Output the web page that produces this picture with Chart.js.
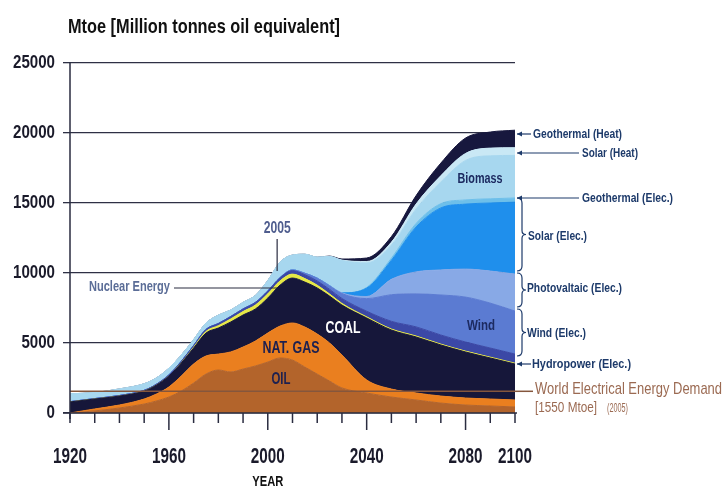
<!DOCTYPE html>
<html>
<head>
<meta charset="utf-8">
<script src="https://cdn.jsdelivr.net/npm/chart.js@4.4.1/dist/chart.umd.min.js"></script>
<style>
html,body{margin:0;padding:0;background:#fff;}
#wrap{width:726px;height:497px;position:relative;}
</style>
</head>
<body>
<div id="wrap"><canvas id="energy"></canvas></div>
<script>
// values in Mtoe
var years     = [1920,1930,1940,1950,1955,1960,1965,1970,1975,1980,1985,1990,1995,2000,2005,2010,2015,2020,2025,2030,2040,2050,2060,2070,2080,2090,2100];
var oil       = [0,150,360,640,860,1140,1570,2140,2780,3070,2930,3140,3360,3640,3930,3780,3280,2780,2280,1790,1430,1140,930,710,570,500,430];
var natGas    = [0,140,210,360,500,720,1070,1360,1290,1140,1430,1570,1780,2070,2280,2650,2860,2860,2720,2350,930,570,500,500,500,500,500];
var coal      = [790,710,640,570,640,780,930,1140,1640,1860,2140,2290,2290,2500,2930,3210,3210,3290,3350,3570,4430,4220,4000,3650,3290,2930,2570];
var nuclear   = [0,0,0,0,0,0,20,60,120,170,220,250,280,300,300,280,250,200,150,120,80,70,70,60,60,60,60];
var hydro     = [20,30,40,50,60,80,100,120,140,150,170,180,190,200,220,250,280,300,330,350,400,550,650,650,650,650,650];
var wind      = [0,0,0,0,0,0,0,0,0,0,0,0,0,0,20,50,100,200,250,350,900,1900,2360,2860,3210,3210,3070];
var pv        = [0,0,0,0,0,0,0,0,0,0,0,0,0,0,0,0,0,0,20,50,150,1100,1570,1790,2000,2290,2640];
var solarElec = [0,0,0,0,0,0,0,0,0,0,0,0,0,0,0,0,0,0,0,0,600,1360,3210,4430,4640,4860,5140];
var geoElec   = [0,0,0,0,0,0,0,0,0,0,0,0,0,0,0,0,0,0,0,0,50,150,250,300,300,300,300];
var biomass   = [560,430,470,470,450,480,450,420,450,600,460,470,500,750,1100,1060,1360,1500,2080,2310,1750,940,1040,1550,2820,3070,3040];
var solarHeat = [0,0,0,0,0,0,0,0,0,0,0,0,0,0,0,0,0,0,0,30,100,200,350,450,500,550,550];
var geoHeat   = [0,0,0,0,0,0,0,0,0,0,0,0,0,0,0,0,0,0,30,80,250,400,600,900,1100,1150,1250];
var demand2005 = 1550;
var yearLabels = [1920,1960,2000,2040,2080,2100];

var FONT = "'Liberation Sans', Arial, sans-serif";
var NAVY = '#1d3a6a';

function pts(arr){
    return arr.map(function(v, i){ return {x: years[i], y: v}; });
}

var layers = [
    ['Oil', oil, '#b3642b'],
    ['Nat. Gas', natGas, '#ea7f1f'],
    ['Coal', coal, '#16173a'],
    ['Nuclear Energy', nuclear, '#e6e845'],
    ['Hydropower (Elec.)', hydro, '#3b48a6'],
    ['Wind (Elec.)', wind, '#5b7bd2'],
    ['Photovaltaic (Elec.)', pv, '#88a9e6'],
    ['Solar (Elec.)', solarElec, '#1f8fec'],
    ['Geothermal (Elec.)', geoElec, '#6dbfea'],
    ['Biomass', biomass, '#a7d7ef'],
    ['Solar (Heat)', solarHeat, '#c9e8f5'],
    ['Geothermal (Heat)', geoHeat, '#17183e']
];

var datasets = [{
    label: 'World Electrical Energy Demand',
    data: [{x: 1920, y: demand2005}, {x: 2100, y: demand2005}],
    stack: 'demand', order: -1,
    borderColor: '#85563c', borderWidth: 1.5,
    fill: false, pointRadius: 0
}];
layers.forEach(function(l, i){
    datasets.push({
        label: l[0], data: pts(l[1]), stack: 'energy',
        backgroundColor: l[2], borderColor: l[2], borderWidth: 1,
        fill: i === 0 ? 'origin' : '-1',
        pointRadius: 0, cubicInterpolationMode: 'monotone'
    });
});

// condensed text: squeeze the string to the width it has in the picture
function txt(ctx, s, x, y, font, color, width, align){
    ctx.save();
    ctx.font = font;
    var k = width / ctx.measureText(s).width;
    ctx.translate(x, y);
    ctx.scale(k, 1);
    ctx.fillStyle = color;
    ctx.textAlign = align || 'left';
    ctx.textBaseline = 'middle';
    ctx.fillText(s, 0, 0);
    ctx.restore();
}

function leftArrow(ctx, x1, x2, y){
    ctx.beginPath();
    ctx.moveTo(x1, y); ctx.lineTo(x2, y); ctx.stroke();
    ctx.beginPath();
    ctx.moveTo(x1, y); ctx.lineTo(x1 + 5, y - 2.5); ctx.lineTo(x1 + 5, y + 2.5);
    ctx.closePath(); ctx.fill();
}

function brace(ctx, x, y1, y2){
    var m = (y1 + y2) / 2, w = 5;
    ctx.beginPath();
    ctx.moveTo(x, y1);
    ctx.quadraticCurveTo(x + w, y1, x + w, y1 + 5);
    ctx.lineTo(x + w, m - 4);
    ctx.quadraticCurveTo(x + w, m, x + w + 4, m);
    ctx.quadraticCurveTo(x + w, m, x + w, m + 4);
    ctx.lineTo(x + w, y2 - 5);
    ctx.quadraticCurveTo(x + w, y2, x, y2);
    ctx.stroke();
}

var annotations = {
    id: 'annotations',
    afterDatasetsDraw: function(chart){
        var ctx = chart.ctx, xs = chart.scales.x, ys = chart.scales.y;
        var a = chart.chartArea;
        ctx.save();
        ctx.strokeStyle = '#2a2c40';
        ctx.lineWidth = 1.5;
        // axes
        ctx.beginPath();
        ctx.moveTo(a.left, a.top - 1); ctx.lineTo(a.left, a.bottom + 6);
        ctx.moveTo(a.left - 7, a.bottom); ctx.lineTo(a.right + 2, a.bottom);
        ctx.stroke();
        // year ticks
        for (var yr = 1920; yr <= 2100; yr += 10){
            var px = xs.getPixelForValue(yr);
            var major = (yr - 1920) % 40 === 0 && yr > 1920 && yr < 2100;
            ctx.beginPath();
            ctx.moveTo(px, a.bottom); ctx.lineTo(px, a.bottom + (major ? 17 : 10));
            ctx.stroke();
        }
        // tick labels, condensed like the original type
        xs.ticks.forEach(function(t){
            var s = String(t.value);
            txt(ctx, s, xs.getPixelForValue(t.value), 457, 'bold 22px ' + FONT, '#1a1a2a', 8.5 * s.length, 'center');
        });
        ys.ticks.forEach(function(t){
            var s = String(t.value);
            txt(ctx, s, a.left - 15, ys.getPixelForValue(t.value), 'bold 19px ' + FONT, '#1a1a2a', 8.4 * s.length, 'right');
        });

        // demand line continues to its label
        var yd = ys.getPixelForValue(demand2005);
        ctx.strokeStyle = '#85563c';
        ctx.beginPath(); ctx.moveTo(a.right, yd); ctx.lineTo(a.right + 18, yd); ctx.stroke();

        // 2005 marker
        var x05 = xs.getPixelForValue(2005) - 3;
        ctx.strokeStyle = '#2a2c40';
        ctx.fillStyle = '#2a2c40';
        ctx.lineWidth = 1.2;
        ctx.beginPath(); ctx.moveTo(x05, 239); ctx.lineTo(x05, ys.getPixelForValue(10000) - 2); ctx.stroke();
        ctx.beginPath(); ctx.moveTo(174, 288); ctx.lineTo(x05, 288); ctx.stroke();

        // right side arrows and braces
        ctx.strokeStyle = NAVY;
        ctx.fillStyle = NAVY;
        ctx.lineWidth = 1.2;
        leftArrow(ctx, a.right + 2, a.right + 16, 134);
        leftArrow(ctx, a.right + 2, a.right + 64, 153);
        leftArrow(ctx, a.right + 2, a.right + 64, 198);
        leftArrow(ctx, a.right + 2, a.right + 16, 364);
        brace(ctx, a.right + 2, 198, 271);
        brace(ctx, a.right + 2, 273, 307);
        brace(ctx, a.right + 2, 309, 356);

        var lb = 'bold 13px ' + FONT;
        txt(ctx, 'Geothermal (Heat)', a.right + 18, 134, lb, NAVY, 89);
        txt(ctx, 'Solar (Heat)', a.right + 67, 153, lb, NAVY, 56);
        txt(ctx, 'Geothermal (Elec.)', a.right + 67, 198, lb, NAVY, 91);
        txt(ctx, 'Solar (Elec.)', a.right + 13, 236, lb, NAVY, 59);
        txt(ctx, 'Photovaltaic (Elec.)', a.right + 12, 288, lb, NAVY, 95);
        txt(ctx, 'Wind (Elec.)', a.right + 12, 333, lb, NAVY, 59);
        txt(ctx, 'Hydropower (Elec.)', a.right + 17, 364, lb, NAVY, 99);

        txt(ctx, 'World Electrical Energy Demand', a.right + 20, 389, '17px ' + FONT, '#9b6a52', 187);
        txt(ctx, '[1550 Mtoe]', a.right + 20, 408, '15px ' + FONT, '#9b6a52', 62);
        txt(ctx, '(2005)', a.right + 92, 409, '12px ' + FONT, '#9b6a52', 21);

        // labels in the chart
        txt(ctx, '2005', x05, 229, 'bold 16px ' + FONT, '#4f5d8e', 27, 'center');
        txt(ctx, 'Nuclear Energy', 89, 287, 'bold 15px ' + FONT, '#5b6d97', 81);
        txt(ctx, 'COAL', 343, 329, 'bold 16px ' + FONT, '#ffffff', 35, 'center');
        txt(ctx, 'NAT. GAS', 291, 349, 'bold 16px ' + FONT, '#1c2050', 57, 'center');
        txt(ctx, 'OIL', 281, 380, 'bold 16px ' + FONT, '#1c2050', 19, 'center');
        txt(ctx, 'Wind', 481, 326, 'bold 15px ' + FONT, '#1c2a60', 28, 'center');
        txt(ctx, 'Biomass', 480, 179, 'bold 15px ' + FONT, '#1c2a60', 45, 'center');

        txt(ctx, 'Mtoe [Million tonnes oil equivalent]', 68, 27, 'bold 21px ' + FONT, '#111', 272);
        txt(ctx, 'YEAR', xs.getPixelForValue(2000), 482, 'bold 15px ' + FONT, '#111', 31, 'center');
        ctx.restore();
    }
};

new Chart(document.getElementById('energy'), {
    type: 'line',
    data: {datasets: datasets},
    options: {
        responsive: true,
        maintainAspectRatio: false,
        animation: false,
        layout: {padding: {left: 0, top: 63, right: 211, bottom: 0}},
        plugins: {legend: {display: false}, tooltip: {enabled: false}, title: {display: false}},
        scales: {
            x: {
                type: 'linear', min: 1920, max: 2100,
                afterBuildTicks: function(scale){
                    scale.ticks = yearLabels.map(function(v){ return {value: v}; });
                },
                afterFit: function(scale){ scale.height = 84; },
                grid: {display: false},
                border: {display: false},
                ticks: {color: 'rgba(0,0,0,0)', maxRotation: 0, autoSkip: false, font: {size: 10}}
            },
            y: {
                stacked: true, min: 0, max: 25000,
                afterFit: function(scale){ scale.width = 70; },
                grid: {color: '#2e3045', lineWidth: 1.3, tickLength: 7},
                border: {display: false},
                ticks: {stepSize: 5000, color: 'rgba(0,0,0,0)', font: {size: 10}}
            }
        }
    },
    plugins: [annotations]
});
</script>
</body>
</html>
